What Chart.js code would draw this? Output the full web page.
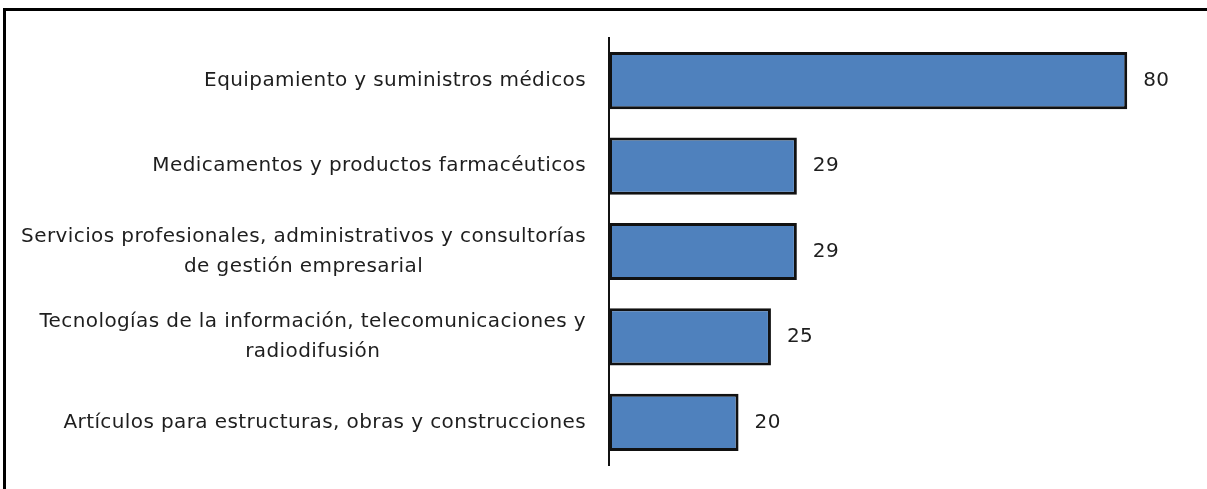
<!DOCTYPE html>
<html>
<head>
<meta charset="utf-8">
<script src="https://cdn.jsdelivr.net/npm/chart.js@4"></script>
<style>
  html, body { margin: 0; padding: 0; background: #fff; }
  #wrap { position: relative; width: 1207px; height: 489px; overflow: hidden; }
  #frame { position: absolute; left: 3px; top: 8px; width: 1300px; height: 600px;
           border-top: 3px solid #000; border-left: 3px solid #000; }
  canvas { position: absolute; left: 0; top: 0; }
</style>
</head>
<body>
<div id="wrap">
  <div id="frame"></div>
  <canvas id="barChart" width="1207" height="489"></canvas>
</div>
<script>
var categories = [
    ['Equipamiento y suministros médicos'],
    ['Medicamentos y productos farmacéuticos'],
    ['Servicios profesionales, administrativos y consultorías', 'de gestión empresarial'],
    ['Tecnologías de la información, telecomunicaciones y', 'radiodifusión'],
    ['Artículos para estructuras, obras y construcciones']
];
var values = [80, 29, 29, 25, 20];

var FONT = '20px "DejaVu Sans", sans-serif';

// draws the category labels (block right aligned, lines centred) and value labels
var labelPlugin = {
    id: 'labels',
    afterDatasetsDraw: function (chart) {
        var ctx = chart.ctx;
        var yScale = chart.scales.y;
        var xScale = chart.scales.x;
        ctx.save();
        ctx.font = FONT;
        ctx.letterSpacing = '0.4px';
        ctx.fillStyle = '#1e1e1e';
        ctx.textBaseline = 'middle';
        var lineH = 30;
        categories.forEach(function (lines, i) {
            var yc = yScale.getPixelForValue(i);
            var widest = 0;
            lines.forEach(function (l) { widest = Math.max(widest, ctx.measureText(l).width); });
            var right = chart.chartArea.left - 23;
            var cx = right - widest / 2;
            ctx.textAlign = 'center';
            lines.forEach(function (l, j) {
                var y = yc + (j - (lines.length - 1) / 2) * lineH;
                ctx.fillText(l, cx, y);
            });
            ctx.textAlign = 'left';
            ctx.fillText(String(values[i]), xScale.getPixelForValue(values[i]) + 16, yc);
        });
        ctx.restore();
    }
};

var barCtx = document.getElementById('barChart').getContext('2d');
var barChart = new Chart(barCtx, {
    type: 'bar',
    data: {
        labels: categories,
        datasets: [{
            data: values,
            backgroundColor: '#4f81bd',
            borderColor: '#111111',
            borderWidth: 3,
            borderSkipped: false,
            categoryPercentage: 1,
            barPercentage: 0.67
        }]
    },
    options: {
        indexAxis: 'y',
        responsive: false,
        animation: false,
        layout: { padding: { left: 609, top: 38, bottom: 24, right: 15 } },
        plugins: { legend: { display: false }, tooltip: { enabled: false } },
        scales: {
            x: { display: false, min: 0, max: 90 },
            y: {
                ticks: { display: false },
                grid: { display: false, drawTicks: false },
                border: { display: true, color: '#111111', width: 2 },
                afterFit: function (s) { s.width = 0; }
            }
        }
    },
    plugins: [labelPlugin]
});
</script>
</body>
</html>
